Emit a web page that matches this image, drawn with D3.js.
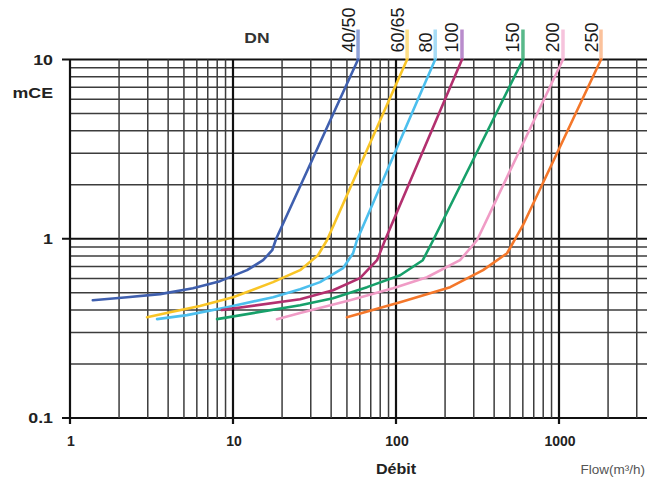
<!DOCTYPE html>
<html><head><meta charset="utf-8">
<script src="https://cdn.jsdelivr.net/npm/d3@7"></script>
<style>body{margin:0;background:#fff}svg{display:block}</style>
</head><body>
<svg id="chart" width="647" height="481"></svg>
<script>
// ---- data ----
const seriesNames = ["40/50", "60/65", "80", "100", "150", "200", "250"];
const seriesColors = ["#3f5fae", "#f9c526", "#4cbfee", "#b3306f", "#17a06a", "#f09cc6", "#f4772a"];
const stubColors = ["#8fa2d8", "#fddf86", "#a6dcf6", "#b98ccc", "#59b98a", "#f6c3dc", "#fbc29c"];

const flow_40_50 = [1.38, 2.24, 3.57, 5.68, 8.32, 12.2, 15.3, 17.4, 18.4, 58.5];
const head_40_50 = [0.454, 0.472, 0.491, 0.530, 0.580, 0.668, 0.759, 0.863, 1.0, 10];
const flow_60_65 = [2.97, 4.11, 6.27, 10.0, 17.6, 25.8, 33.2, 37.7, 117];
const head_60_65 = [0.365, 0.389, 0.421, 0.472, 0.573, 0.668, 0.809, 0.981, 10];
const flow_80 = [3.42, 5.22, 9.19, 17.6, 25.8, 34.2, 47.3, 54.5, 57.6, 174];
const head_80 = [0.356, 0.375, 0.415, 0.472, 0.523, 0.573, 0.685, 0.830, 0.981, 10];
const flow_100 = [8.56, 25.8, 41.1, 60.1, 76.5, 85.6, 254];
const head_100 = [0.400, 0.460, 0.516, 0.603, 0.759, 0.981, 10];
const flow_150 = [7.98, 25.8, 41.1, 66.4, 106, 146, 169, 601];
const head_150 = [0.356, 0.426, 0.466, 0.537, 0.626, 0.759, 0.981, 10];
const flow_200 = [18.6, 25.8, 52.2, 95.9, 155, 247, 314, 1058];
const head_200 = [0.356, 0.385, 0.454, 0.530, 0.610, 0.759, 0.981, 10];
const flow_250 = [50.0, 106, 215, 342, 480, 601, 972, 1810];
const head_250 = [0.365, 0.443, 0.537, 0.668, 0.830, 1.19, 3.0, 10];

const xTickValues = [1, 10, 100, 1000];
const xTickLabels = ["1", "10", "100", "1000"];
const yTickValues = [0.1, 1, 10];
const yTickLabels = ["0.1", "1", "10"];
const stubTopHead = 14.7; // head value where the coloured lead-lines end above the grid

// ---- build ----
const flows = [flow_40_50, flow_60_65, flow_80, flow_100, flow_150, flow_200, flow_250];
const heads = [head_40_50, head_60_65, head_80, head_100, head_150, head_200, head_250];
const series = seriesNames.map((n, i) => ({
  name: n, color: seriesColors[i], stub: stubColors[i],
  pts: flows[i].map((q, j) => [q, heads[i][j]])
}));

const W = 647, H = 481;
const svg = d3.select("#chart");
const x = d3.scaleLog().domain([1, 1000]).range([70, 559]);
const y = d3.scaleLog().domain([0.1, 10]).range([418, 59.5]);

const xGrid = d3.scaleLog().domain([1, 3000]).ticks();
const yGrid = y.ticks();
const isMajor = v => Math.abs(Math.log10(v) - Math.round(Math.log10(v))) < 1e-9;

const grid = svg.append("g");
grid.selectAll("line.h").data(yGrid).join("line")
  .attr("x1", d => isMajor(d) ? x(1) - 8 : x(1))
  .attr("x2", W)
  .attr("y1", d => y(d)).attr("y2", d => y(d))
  .attr("stroke", d => isMajor(d) ? "#111" : "#3c3c3c")
  .attr("stroke-width", d => isMajor(d) ? 2.2 : 1.5);
grid.selectAll("line.v").data(xGrid).join("line")
  .attr("x1", d => x(d)).attr("x2", d => x(d))
  .attr("y1", y(10))
  .attr("y2", d => isMajor(d) ? y(0.1) + 6 : y(0.1))
  .attr("stroke", d => isMajor(d) ? "#111" : "#3c3c3c")
  .attr("stroke-width", d => isMajor(d) ? 2.2 : 1.5);

// lead lines (stubs) above the grid
svg.append("g").selectAll("line").data(series).join("line")
  .attr("x1", d => x(d.pts[d.pts.length - 1][0]))
  .attr("x2", d => x(d.pts[d.pts.length - 1][0]))
  .attr("y1", y(10)).attr("y2", y(stubTopHead))
  .attr("stroke", d => d.stub).attr("stroke-width", 3.5);

// curves
const line = d3.line().x(d => x(d[0])).y(d => y(d[1])).curve(d3.curveLinear);
svg.append("g").selectAll("path").data(series).join("path")
  .attr("d", d => line(d.pts))
  .attr("fill", "none").attr("stroke", d => d.color)
  .attr("stroke-width", 2.6).attr("stroke-linecap", "round").attr("stroke-linejoin", "round");

// series labels (rotated)
svg.append("g").selectAll("text").data(series).join("text")
  .attr("transform", d => `translate(${x(d.pts[d.pts.length - 1][0]) - 3.5},${y(stubTopHead) + 23}) rotate(-90)`)
  .attr("font-family", "Liberation Sans, Arial, sans-serif")
  .attr("font-size", 18).attr("fill", "#1a1a1a")
  .attr("text-anchor", "start")
  .text(d => d.name);

const bold = "Liberation Sans, Arial, sans-serif";
svg.append("g").selectAll("text").data(yTickValues).join("text")
  .attr("transform", d => `translate(53,${y(d) + 5}) scale(1.27,1)`)
  .attr("text-anchor", "end").attr("font-family", bold).attr("font-weight", "bold")
  .attr("font-size", 14).attr("fill", "#222")
  .text((d, i) => yTickLabels[i]);
svg.append("g").selectAll("text").data(xTickValues).join("text")
  .attr("x", d => x(d) + 1).attr("y", 446)
  .attr("text-anchor", "middle").attr("font-family", bold).attr("font-weight", "bold")
  .attr("font-size", 14).attr("fill", "#222")
  .text((d, i) => xTickLabels[i]);

svg.append("text").attr("transform", "translate(53,98) scale(1.27,1)")
  .attr("text-anchor", "end").attr("font-family", bold).attr("font-weight", "bold")
  .attr("font-size", 14).attr("fill", "#222").text("mCE");
svg.append("text").attr("transform", "translate(257,43) scale(1.25,1)")
  .attr("text-anchor", "middle").attr("font-family", bold).attr("font-weight", "bold")
  .attr("font-size", 14).attr("fill", "#333").text("DN");
svg.append("text").attr("transform", `translate(${x(100)},474) scale(1.15,1)`)
  .attr("text-anchor", "middle").attr("font-family", bold).attr("font-weight", "bold")
  .attr("font-size", 14).attr("fill", "#222").text("Débit");
svg.append("text").attr("x", 645).attr("y", 474)
  .attr("text-anchor", "end").attr("font-family", "Liberation Sans, Arial, sans-serif")
  .attr("font-size", 13.5).attr("fill", "#555").text("Flow(m³/h)");
</script>
</body></html>
